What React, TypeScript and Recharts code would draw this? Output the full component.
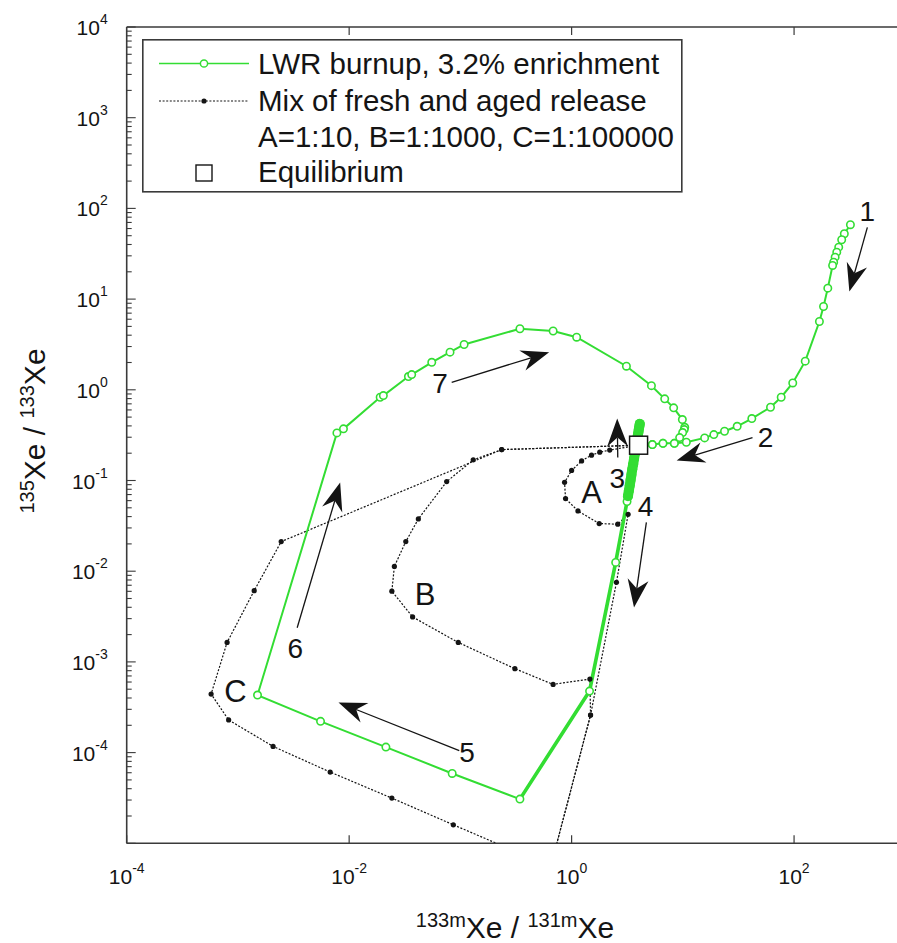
import React from 'react';
import { ComposedChart, Line, XAxis, YAxis, ReferenceLine, ReferenceDot, Legend } from 'recharts';

const GREEN = '#33dd33';
const INK = '#141414';
const FRAME = '#3a3a3a';
const FONT = '"Liberation Sans", Arial, Helvetica, sans-serif';

// LWR burnup, 3.2% enrichment (path in time order)
const lwrX = [321, 283, 268, 252, 242, 234, 227, 222, 201, 184, 169, 126, 97.3, 76.6, 61.4, 41.7, 30.8, 23.7, 19.0, 15.7, 10.75, 8.39, 6.63, 5.32, 4.18,
  4.10, 4.06, 4.02, 3.99, 3.95, 3.91, 3.88, 3.84, 3.81, 3.78, 3.71, 3.64, 3.58, 3.51, 3.45, 3.39, 3.33, 3.27, 3.21, 3.15,
  2.49, 1.45, 0.343, 0.0844, 0.0214, 0.00553, 0.00150,
  0.00776, 0.00889, 0.0190, 0.0203, 0.0341, 0.0365, 0.0553, 0.0807, 0.108, 0.343, 0.682, 1.11, 3.11, 5.22, 6.87, 8.27, 9.90, 10.4, 10.3, 9.96, 9.36, 8.39, 6.63, 5.32, 4.18];
const lwrY = [66.1, 52.6, 45.1, 37.4, 32.9, 29.0, 25.5, 23.5, 13.2, 8.29, 5.66, 2.07, 1.19, 0.828, 0.642, 0.482, 0.396, 0.349, 0.321, 0.295, 0.264, 0.257, 0.257, 0.249, 0.243,
  0.421, 0.393, 0.368, 0.343, 0.321, 0.300, 0.280, 0.262, 0.244, 0.228, 0.199, 0.174, 0.152, 0.133, 0.116, 0.101, 0.0882, 0.0770, 0.0672, 0.0587,
  0.0125, 4.77e-4, 3.07e-5, 5.89e-5, 1.15e-4, 2.21e-4, 4.31e-4,
  0.335, 0.371, 0.828, 0.864, 1.40, 1.47, 2.01, 2.60, 3.16, 4.71, 4.45, 3.80, 1.82, 1.11, 0.795, 0.632, 0.470, 0.386, 0.364, 0.338, 0.297, 0.257, 0.257, 0.249, 0.243];
// index ranges of the densely sampled shutdown band and the following descent
const bandRange = [25, 44];
const descentRange = [44, 48];

// Mix of fresh and aged release
const mixAX = [4.0, 2.20, 1.79, 1.51, 1.23, 1.00, 0.864, 0.882, 1.14, 1.77, 2.60, 3.22, 2.53, 1.48, 0.707];
const mixAY = [0.245, 0.2165, 0.205, 0.190, 0.1645, 0.129, 0.0955, 0.0632, 0.0462, 0.0335, 0.0330, 0.0424, 0.00753, 2.59e-4, 8.26e-6];
const mixBX = [4.0, 0.235, 0.1305, 0.0753, 0.0419, 0.0323, 0.0255, 0.0242, 0.0372, 0.0957, 0.309, 0.682, 1.46, 1.48, 0.707];
const mixBY = [0.245, 0.219, 0.169, 0.0972, 0.0377, 0.0212, 0.0113, 0.00602, 0.00313, 0.00164, 8.41e-4, 5.65e-4, 6.47e-4, 2.59e-4, 8.26e-6];
const mixCX = [4.0, 0.235, 0.00245, 0.00140, 0.000799, 0.000574, 0.000825, 0.00207, 0.00675, 0.0242, 0.0864, 0.303];
const mixCY = [0.245, 0.219, 0.0212, 0.0061, 0.00164, 4.42e-4, 2.29e-4, 1.17e-4, 6.10e-5, 3.15e-5, 1.60e-5, 8.26e-6];

// Equilibrium
const eqX = [4.0];
const eqY = [0.245];

// Axis ticks
const xTickValues = [1e-4, 1e-2, 1, 1e2];
const xTickExponents = ['-4', '-2', '0', '2'];
const yMajorValues = [1e-5, 1e-4, 1e-3, 1e-2, 1e-1, 1, 10, 100, 1000, 10000];
const yMajorExponents = ['', '-4', '-3', '-2', '-1', '0', '1', '2', '3', '4'];
const minorMultipliers = [2, 3, 4, 5, 6, 7, 8, 9];

// Annotation arrows (data coordinates)
const arrowFromX = [456, 42.3, 2.60, 4.70, 0.0977, 0.00341, 0.0835];
const arrowFromY = [61.7, 0.297, 0.179, 0.0346, 1.05e-4, 0.00238, 1.21];
const arrowToX = [314, 8.80, 2.57, 3.64, 0.00802, 0.0083, 0.628];
const arrowToY = [12.1, 0.166, 0.482, 0.00399, 3.57e-4, 0.0948, 2.60];

// Annotation labels
const noteText = ['1', '2', '3', '4', '5', '6', '7', 'A', 'B', 'C'];
const noteX = [456, 55.4, 2.57, 4.63, 0.115, 0.00328, 0.0656, 1.51, 0.0481, 0.000948];
const noteY = [93.8, 0.305, 0.108, 0.0528, 1.01e-4, 0.00143, 1.20, 0.0741, 0.00565, 4.75e-4];

const legendLabels = ['LWR burnup, 3.2% enrichment', 'Mix of fresh and aged release', 'A=1:10, B=1:1000, C=1:100000', 'Equilibrium'];

const yTicks: number[] = [];
yMajorValues.forEach((v, i) => {
  yTicks.push(v);
  if (i < yMajorValues.length - 1) minorMultipliers.forEach((m) => yTicks.push(+(m * v).toPrecision(6)));
});

const sameLog = (a: number, b: number) => Math.abs(Math.log10(a) - Math.log10(b)) < 1e-6;

function XTick(props: any) {
  const { x, y, payload } = props;
  const idx = xTickValues.findIndex((t) => sameLog(t, payload.value));
  return (
    <g>
      <line x1={x} x2={x} y1={y} y2={y - 8} stroke={FRAME} strokeWidth={1.2} />
      {idx >= 0 && (
        <text x={x} y={y + 41} textAnchor="middle" fontFamily={FONT} fontSize={21} fill={INK}>
          10<tspan dy={-11} fontSize={14}>{xTickExponents[idx]}</tspan>
        </text>
      )}
    </g>
  );
}

function YTick(props: any) {
  const { x, y, payload } = props;
  const idx = yMajorValues.findIndex((m) => sameLog(m, payload.value));
  const major = idx >= 0;
  return (
    <g>
      <line x1={x} x2={x + (major ? 9 : 5)} y1={y} y2={y} stroke={FRAME} strokeWidth={1.1} />
      {major && yMajorExponents[idx] !== '' && (
        <text x={x - 19} y={y + 8} textAnchor="end" fontFamily={FONT} fontSize={21} fill={INK}>
          10<tspan dy={-11} fontSize={14}>{yMajorExponents[idx]}</tspan>
        </text>
      )}
    </g>
  );
}

const arrowShape = (p: any) => {
  const { x1, y1, x2, y2 } = p;
  const dx = x2 - x1;
  const dy = y2 - y1;
  const len = Math.hypot(dx, dy) || 1;
  const ux = dx / len;
  const uy = dy / len;
  const nx = -uy;
  const ny = ux;
  const L = 28;
  const W = 10.5;
  const N = 9;
  const bx = x2 - ux * L;
  const by = y2 - uy * L;
  const mx = x2 - ux * (L - N);
  const my = y2 - uy * (L - N);
  const pts = [[x2, y2], [bx + nx * W, by + ny * W], [mx, my], [bx - nx * W, by - ny * W]]
    .map((q) => q.join(',')).join(' ');
  return (
    <g>
      <line x1={x1} y1={y1} x2={mx} y2={my} stroke={INK} strokeWidth={1.3} />
      <polygon points={pts} fill={INK} />
    </g>
  );
};

const topTickShape = (p: any) => {
  const { x1, y1, y2 } = p;
  const top = Math.min(y1, y2);
  return <line x1={x1} x2={x1} y1={top} y2={top + 8} stroke={FRAME} strokeWidth={1.2} />;
};

const makeNote = (text: string) => (p: any) => {
  const fs = /[A-Z]/.test(text) ? 31 : 28;
  return (
    <text x={p.cx} y={p.cy + fs * 0.36} textAnchor="middle" fontFamily={FONT} fontSize={fs} fill={INK}>
      {text}
    </text>
  );
};

const LegendBox = () => (
  <svg width={541} height={154} style={{ display: 'block' }}>
    <rect x={0.8} y={0.8} width={539} height={152} fill="#fff" stroke={FRAME} strokeWidth={1.6} />
    <line x1={17} x2={107} y1={24.5} y2={24.5} stroke={GREEN} strokeWidth={1.5} />
    <circle cx={62} cy={24.5} r={3.6} fill="#fff" stroke={GREEN} strokeWidth={1.5} />
    <line x1={17} x2={107} y1={62} y2={62} stroke={INK} strokeWidth={1.2} strokeDasharray="2 1.6" />
    <circle cx={62} cy={62} r={2.6} fill={INK} />
    <rect x={54} y={126} width={16} height={16} fill="#fff" stroke={INK} strokeWidth={1.4} />
    <text x={116} y={35} fontFamily={FONT} fontSize={29.5} fill={INK}>{legendLabels[0]}</text>
    <text x={116} y={72} fontFamily={FONT} fontSize={29.5} fill={INK}>{legendLabels[1]}</text>
    <text x={116} y={108} fontFamily={FONT} fontSize={29.5} fill={INK}>{legendLabels[2]}</text>
    <text x={116} y={143} fontFamily={FONT} fontSize={29.5} fill={INK}>{legendLabels[3]}</text>
  </svg>
);

export default function App() {
  const lwr = lwrX.map((x, i) => ({ x, y: lwrY[i] }));
  const lwrBand = lwr.slice(bandRange[0], bandRange[1]);
  const lwrDescent = lwr.slice(descentRange[0], descentRange[1]);
  const mixA = mixAX.map((x, i) => ({ x, y: mixAY[i] }));
  const mixB = mixBX.map((x, i) => ({ x, y: mixBY[i] }));
  const mixC = mixCX.map((x, i) => ({ x, y: mixCY[i] }));
  const eq = eqX.map((x, i) => ({ x, y: eqY[i] }));

  const blackDot = { r: 2.6, fill: INK, stroke: INK, strokeWidth: 0 };
  const greenDot = { r: 3.7, fill: '#fff', stroke: GREEN, strokeWidth: 1.6 };
  const bandDot = { r: 5, fill: GREEN, stroke: GREEN, strokeWidth: 0 };

  return (
    <div style={{ position: 'absolute', left: 0, top: 0, width: 897, height: 943, overflow: 'hidden', background: '#fff' }}>
      <ComposedChart width={912} height={943} margin={{ top: 27, right: 6.7, bottom: 69.7, left: 66.7 }}>
        <XAxis
          type="number"
          dataKey="x"
          scale="log"
          domain={[1e-4, 1e3]}
          allowDataOverflow
          ticks={xTickValues}
          interval={0}
          tick={<XTick />}
          tickLine={false}
          tickSize={0}
          tickMargin={0}
          axisLine={{ stroke: FRAME, strokeWidth: 1.6 }}
          height={30}
        />
        <YAxis
          type="number"
          scale="log"
          domain={[1e-5, 1e4]}
          allowDataOverflow
          ticks={yTicks}
          interval={0}
          tick={<YTick />}
          tickLine={false}
          tickSize={0}
          tickMargin={0}
          axisLine={{ stroke: FRAME, strokeWidth: 1.6 }}
          width={60}
        />
        <ReferenceLine y={1e4} stroke={FRAME} strokeWidth={1.6} ifOverflow="visible" />
        {xTickValues.slice(1).map((v) => (
          <ReferenceLine key={`tt-${v}`} x={v} ifOverflow="visible" shape={topTickShape} />
        ))}
        <Line data={mixA} dataKey="y" name="mixA" stroke={INK} strokeWidth={1.2} strokeDasharray="2 1.6" dot={blackDot} activeDot={false} isAnimationActive={false} legendType="none" />
        <Line data={mixB} dataKey="y" name="mixB" stroke={INK} strokeWidth={1.2} strokeDasharray="2 1.6" dot={blackDot} activeDot={false} isAnimationActive={false} legendType="none" />
        <Line data={mixC} dataKey="y" name="mixC" stroke={INK} strokeWidth={1.2} strokeDasharray="2 1.6" dot={blackDot} activeDot={false} isAnimationActive={false} legendType="none" />
        <Line data={lwrDescent} dataKey="y" name="lwrDescent" stroke={GREEN} strokeWidth={3.6} strokeLinejoin="round" dot={false} activeDot={false} isAnimationActive={false} legendType="none" />
        <Line data={lwr} dataKey="y" name="lwr" stroke={GREEN} strokeWidth={2} dot={greenDot} activeDot={false} isAnimationActive={false} legendType="none" />
        <Line data={lwrBand} dataKey="y" name="lwrBand" stroke={GREEN} strokeWidth={10} strokeLinecap="round" strokeLinejoin="round" dot={bandDot} activeDot={false} isAnimationActive={false} legendType="none" />
        <Line
          data={eq}
          dataKey="y"
          name="eq"
          stroke="none"
          activeDot={false}
          isAnimationActive={false}
          legendType="none"
          dot={(p: any) => (
            <rect key={`eq-${p.index}`} x={p.cx - 9} y={p.cy - 9} width={18} height={18} fill="#fff" stroke={INK} strokeWidth={1.5} />
          )}
        />
        {arrowFromX.map((fx, i) => (
          <ReferenceLine
            key={`ar-${i}`}
            segment={[{ x: fx, y: arrowFromY[i] }, { x: arrowToX[i], y: arrowToY[i] }]}
            ifOverflow="visible"
            shape={arrowShape}
          />
        ))}
        {noteText.map((t, i) => (
          <ReferenceDot key={`nt-${i}`} x={noteX[i]} y={noteY[i]} r={0} ifOverflow="visible" shape={makeNote(t)} />
        ))}
        <Legend
          content={() => <LegendBox />}
          layout="horizontal"
          verticalAlign="middle"
          align="center"
          wrapperStyle={{ left: 142, top: 39, width: 541, height: 154 }}
        />
      </ComposedChart>
      <svg width={897} height={943} style={{ position: 'absolute', left: 0, top: 0, pointerEvents: 'none' }}>
        <text x={515} y={938} textAnchor="middle" fontFamily={FONT} fontSize={30} fill={INK}>
          <tspan fontSize={20} dy={-11}>133m</tspan>
          <tspan dy={11}>Xe / </tspan>
          <tspan fontSize={20} dy={-11}>131m</tspan>
          <tspan dy={11}>Xe</tspan>
        </text>
        <text transform="translate(45,431) rotate(-90)" textAnchor="middle" fontFamily={FONT} fontSize={30} fill={INK}>
          <tspan fontSize={20} dy={-11}>135</tspan>
          <tspan dy={11}>Xe / </tspan>
          <tspan fontSize={20} dy={-11}>133</tspan>
          <tspan dy={11}>Xe</tspan>
        </text>
      </svg>
    </div>
  );
}
